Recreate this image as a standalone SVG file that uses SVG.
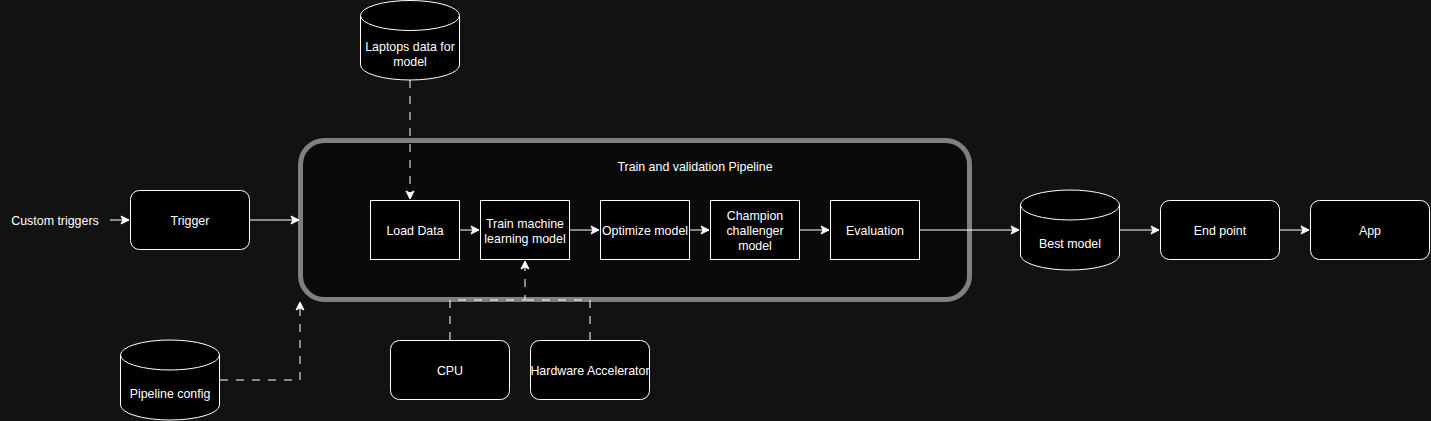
<svg xmlns="http://www.w3.org/2000/svg" width="1431" height="421" viewBox="0 0 1431 421">
<style>
text{font-family:"Liberation Sans",Arial,sans-serif;font-size:12.4px;fill:#ffffff;text-anchor:middle;dominant-baseline:central}
.box{fill:#000000;stroke:#ffffff;stroke-width:1}
.ln{fill:none;stroke:#ffffff;stroke-width:1}
.dash{fill:none;stroke:#ffffff;stroke-width:1;stroke-dasharray:8 8}
</style>
<defs>
<marker id="ah" viewBox="0 0 10 10" refX="9" refY="5" markerWidth="10" markerHeight="10" markerUnits="userSpaceOnUse" orient="auto">
<path d="M1,1 L9,5 L1,9 L3,5 Z" fill="#ffffff" stroke="#ffffff" stroke-width="1"/>
</marker>
</defs>
<rect width="1431" height="421" fill="#121212"/>
<g id="container">
<rect x="300.5" y="140.5" width="669" height="159" rx="24" fill="#0a0a0a" stroke="#808080" stroke-width="5"/>
<text x="695" y="167">Train and validation Pipeline</text>
</g>
<g id="connectors">
<path class="ln" d="M110,220 H129" marker-end="url(#ah)"/>
<path class="ln" d="M250,220 H299" marker-end="url(#ah)"/>
<path class="dash" d="M220,380 H300 V302" marker-end="url(#ah)"/>
<path class="dash" d="M410,80 V199" marker-end="url(#ah)"/>
<path class="ln" d="M460,230 H479" marker-end="url(#ah)"/>
<path class="ln" d="M570,230 H599" marker-end="url(#ah)"/>
<path class="ln" d="M690,230 H709" marker-end="url(#ah)"/>
<path class="ln" d="M800,230 H829" marker-end="url(#ah)"/>
<path class="ln" d="M920,230 H1019" marker-end="url(#ah)"/>
<path class="ln" d="M1120,230 H1159" marker-end="url(#ah)"/>
<path class="ln" d="M1280,230 H1309" marker-end="url(#ah)"/>
<path class="dash" d="M450,340 V300 H525 V261" marker-end="url(#ah)"/>
<path class="dash" d="M590,340 V300 H525"/>
</g>
<g id="custom-triggers"><text x="55" y="221">Custom triggers</text></g>
<g id="trigger"><rect class="box" x="130.5" y="190.5" width="119" height="59" rx="9"/><text x="190" y="221">Trigger</text></g>
<g id="pipeline-config">
<path class="box" d="M120.5,355 A49.5,15 0 0 1 219.5,355 V405 A49.5,15 0 0 1 120.5,405 Z"/>
<path class="ln" d="M120.5,355 A49.5,15 0 0 0 219.5,355"/>
<text x="170" y="394">Pipeline config</text>
</g>
<g id="laptops-data">
<path class="box" d="M360.5,15.5 A49.5,15 0 0 1 459.5,15.5 V65 A49.5,15 0 0 1 360.5,65 Z"/>
<path class="ln" d="M360.5,15.5 A49.5,15 0 0 0 459.5,15.5"/>
<text x="410" y="47">Laptops data for</text>
<text x="410" y="62">model</text>
</g>
<g id="load-data"><rect class="box" x="370.5" y="200.5" width="89" height="59"/><text x="415" y="231">Load Data</text></g>
<g id="train"><rect class="box" x="480.5" y="200.5" width="89" height="59"/><text x="525" y="224">Train machine</text><text x="525" y="239">learning model</text></g>
<g id="optimize"><rect class="box" x="600.5" y="200.5" width="89" height="59"/><text x="645" y="231">Optimize model</text></g>
<g id="champion"><rect class="box" x="710.5" y="200.5" width="89" height="59"/><text x="755" y="216">Champion</text><text x="755" y="231">challenger</text><text x="755" y="246">model</text></g>
<g id="evaluation"><rect class="box" x="830.5" y="200.5" width="89" height="59"/><text x="875" y="231">Evaluation</text></g>
<g id="cpu"><rect class="box" x="390.5" y="340.5" width="119" height="59" rx="9"/><text x="450" y="371">CPU</text></g>
<g id="hw-accel"><rect class="box" x="530.5" y="340.5" width="119" height="59" rx="9"/><text x="590" y="371">Hardware Accelerator</text></g>
<g id="best-model">
<path class="box" d="M1020.5,205 A49.5,15 0 0 1 1119.5,205 V255 A49.5,15 0 0 1 1020.5,255 Z"/>
<path class="ln" d="M1020.5,205 A49.5,15 0 0 0 1119.5,205"/>
<text x="1070" y="244">Best model</text>
</g>
<g id="end-point"><rect class="box" x="1160.5" y="200.5" width="119" height="59" rx="9"/><text x="1220" y="231">End point</text></g>
<g id="app"><rect class="box" x="1310.5" y="200.5" width="119" height="59" rx="9"/><text x="1370" y="231">App</text></g>
</svg>
